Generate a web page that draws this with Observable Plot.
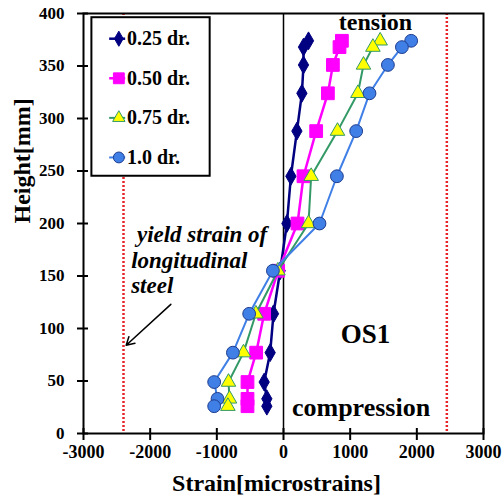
<!DOCTYPE html>
<html>
<head>
<meta charset="utf-8">
<script src="https://cdn.jsdelivr.net/npm/d3@7"></script>
<script src="https://cdn.jsdelivr.net/npm/@observablehq/plot@0.6"></script>
<style>
  html, body { margin: 0; padding: 0; background: #fff; }
  #chart svg { display: block; }
</style>
</head>
<body>
<div id="chart"></div>
<script>
// Gauge heights along the specimen [mm]
const heights = [374, 368, 351, 324, 288, 245, 200, 155, 114, 77, 49, 33, 26];

// Strain readings [microstrains] at each gauge height, per drift level
const strain025 = [375, 300, 300, 276, 201, 111, 51, -50, -150, -200, -290, -250, -250];
const strain050 = [876, 840, 741, 666, 490, 300, 210, -80, -290, -410, -540, -540, -540];
const strain075 = [1450, 1341, 1200, 1116, 810, 415, 375, -84, -414, -600, -825, -810, -834];
const strain100 = [1915, 1776, 1566, 1290, 1090, 801, 540, -159, -515, -759, -1040, -990, -1040];

const seriesNames = ["0.25 dr.", "0.50 dr.", "0.75 dr.", "1.0 dr."];
const seriesValues = [strain025, strain050, strain075, strain100];

const xTicks = [-3000, -2000, -1000, 0, 1000, 2000, 3000];
const yTicks = [0, 50, 100, 150, 200, 250, 300, 350, 400];

// Yield strain of the longitudinal steel
const yieldStrain = [-2400, 2450];

// Annotation texts
const yieldNote = ["\u00a0yield strain of", "longitudinal", "steel"];
const yieldNoteY = [182, 158, 134];
const arrowSeg = [{x1: -1690, y1: 123, x2: -2360, y2: 84}];

const styles = [
  {symbol: "diamond", r: 5.4, fill: "#000080", stroke: "#000080", line: "#000080", lw: 2.5},
  {symbol: "square", r: 7.2, fill: "#ff00ff", stroke: "#ff00ff", line: "#ff00ff", lw: 2.5},
  {symbol: "triangle", r: 5.4, fill: "#ffff00", stroke: "#339966", line: "#339966", lw: 2},
  {symbol: "circle", r: 6.4, fill: "#3f7fe6", stroke: "#1f3d8f", line: "#3f7fe6", lw: 2}
];

const rows = seriesNames.map((name, s) =>
  heights.map((h, i) => ({series: name, strain: seriesValues[s][i], height: h}))
);

const font = "Liberation Serif";

const seriesMarks = rows.flatMap((data, s) => [
  Plot.line(data, {x: "strain", y: "height", stroke: styles[s].line, strokeWidth: styles[s].lw}),
  Plot.dot(data, {x: "strain", y: "height", symbol: () => styles[s].symbol, r: styles[s].r,
    fill: styles[s].fill, stroke: styles[s].stroke, strokeWidth: 1})
]);

// Legend box inside the plot area (upper left)
const legendBox = {x1: -2874, x2: -1100, y1: 245, y2: 396};
const legendRows = seriesNames.map((name, i) => ({name, i, y: 376 - i * 37.7}));
const legendMarks = [
  Plot.rect([legendBox], {x1: "x1", x2: "x2", y1: "y1", y2: "y2", fill: "white", stroke: "black", strokeWidth: 2}),
  ...legendRows.flatMap(d => [
    Plot.link([d], {x1: -2615, x2: -2375, y1: "y", y2: "y", stroke: styles[d.i].line, strokeWidth: styles[d.i].lw}),
    Plot.dot([d], {x: -2470, y: "y", symbol: () => styles[d.i].symbol, r: styles[d.i].r * 0.85,
      fill: styles[d.i].fill, stroke: styles[d.i].stroke, strokeWidth: 1})
  ]),
  Plot.text(legendRows, {x: -2349, y: "y", text: "name", textAnchor: "start", lineAnchor: "middle",
    fontFamily: font, fontSize: 20, fontWeight: "bold", fill: "black"})
];

const chart = Plot.plot({
  width: 502,
  height: 498,
  marginLeft: 83,
  marginRight: 19,
  marginTop: 13,
  marginBottom: 65,
  style: {fontFamily: font, background: "white", color: "black"},
  x: {domain: [-3000, 3000]},
  y: {domain: [0, 400]},
  marks: [
    Plot.ruleX(yieldStrain, {stroke: "#e8242a", strokeWidth: 2.5, strokeDasharray: "2,2"}),
    ...legendMarks,
    Plot.ruleX([0], {stroke: "black", strokeWidth: 1.5}),
    ...seriesMarks,
    Plot.frame({stroke: "black", strokeWidth: 2}),
    // axes with ticks crossing the frame
    Plot.axisX({ticks: xTicks, tickSize: 7, tickPadding: 5, tickFormat: d => String(d),
      fontFamily: font, fontSize: 18, fontWeight: "bold", strokeWidth: 2, label: null}),
    Plot.axisX({ticks: xTicks, tickSize: 5, dy: -5, tickFormat: () => "", strokeWidth: 2, label: null}),
    Plot.axisY({ticks: yTicks, tickSize: 6, tickPadding: 13, tickFormat: d => String(d),
      fontFamily: font, fontSize: 17, fontWeight: "bold", strokeWidth: 2, label: null}),
    Plot.axisY({ticks: yTicks, tickSize: 5, dx: 5, tickFormat: () => "", strokeWidth: 2, label: null}),
    // axis titles
    Plot.text(["Strain[microstrains]"], {frameAnchor: "bottom", dy: 57, dx: -7, lineAnchor: "bottom",
      fontFamily: font, fontSize: 24, fontWeight: "bold", fill: "black"}),
    Plot.text(["Height[mm]"], {frameAnchor: "left", dx: -61, rotate: -90, lineAnchor: "middle",
      fontFamily: font, fontSize: 24, fontWeight: "bold", fill: "black"}),
    // region labels
    Plot.text(["tension"], {x: 1930, y: 384, textAnchor: "end", lineAnchor: "bottom",
      fontFamily: font, fontSize: 24, fontWeight: "bold", fill: "black"}),
    Plot.text(["OS1"], {x: 1600, y: 86, textAnchor: "end", lineAnchor: "bottom",
      fontFamily: font, fontSize: 27, fontWeight: "bold", fill: "black"}),
    Plot.text(["compression"], {x: 2200, y: 17, textAnchor: "end", lineAnchor: "bottom",
      fontFamily: font, fontSize: 26, fontWeight: "bold", fill: "black"}),
    Plot.text(yieldNote, {x: -2285, y: (d, i) => yieldNoteY[i], textAnchor: "start", lineAnchor: "bottom",
      fontFamily: font, fontSize: 23, fontWeight: "bold", fontStyle: "italic", fill: "black"}),
    Plot.arrow(arrowSeg, {x1: "x1", y1: "y1", x2: "x2", y2: "y2", stroke: "black", strokeWidth: 1.5, headLength: 9})
  ]
});

document.getElementById("chart").append(chart);
</script>
</body>
</html>
